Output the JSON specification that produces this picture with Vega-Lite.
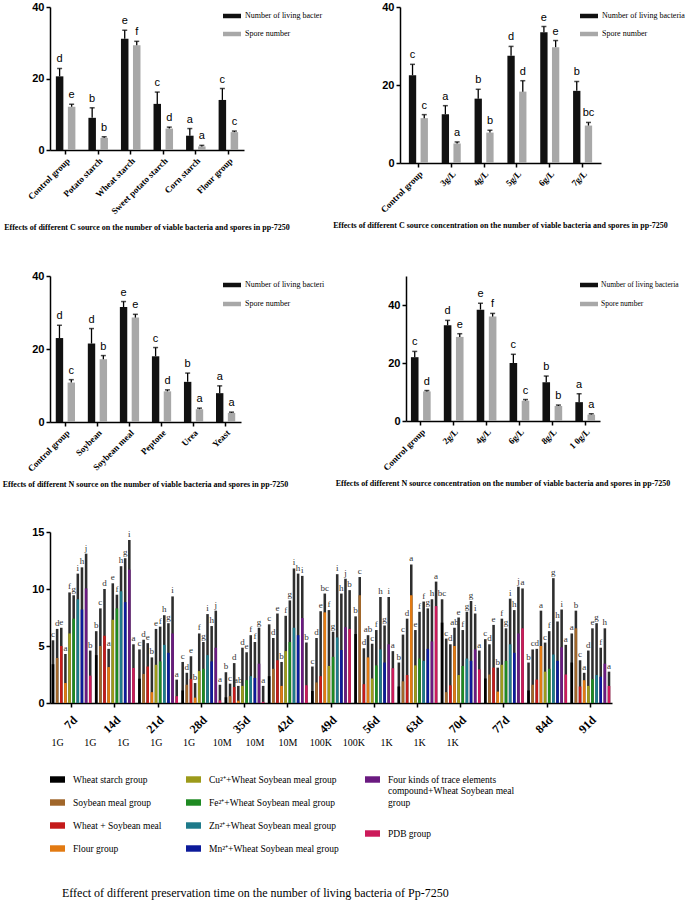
{
  "$schema": "https://vega.github.io/schema/vega-lite/v6.json",
  "background": "white",
  "padding": {"left": 2, "top": 1, "right": 0, "bottom": 2},
  "spacing": 36,
  "config": {
    "view": {"stroke": null},
    "axis": {"grid": false, "domainColor": "#000", "domainWidth": 1.5, "tickColor": "#000", "tickWidth": 1.5, "tickSize": 4, "labelColor": "#000", "titleColor": "#000"},
    "legend": {"symbolStrokeWidth": 0, "padding": 0, "labelColor": "#000"}
  },
  "resolve": {"scale": {"color": "independent", "fill": "independent", "xOffset": "independent"}, "legend": {"color": "independent", "fill": "independent"}},
  "datasets": {
    "cSource": [
      {"cat": "Control group", "series": "Number of living bacteria", "value": 20.6, "err": 22.8, "letter": "d"},
      {"cat": "Control group", "series": "Spore number", "value": 12.1, "err": 12.8, "letter": "e"},
      {"cat": "Potato starch", "series": "Number of living bacteria", "value": 9.0, "err": 11.8, "letter": "b"},
      {"cat": "Potato starch", "series": "Spore number", "value": 3.4, "err": 3.7, "letter": "b"},
      {"cat": "Wheat starch", "series": "Number of living bacteria", "value": 31.1, "err": 33.5, "letter": "e"},
      {"cat": "Wheat starch", "series": "Spore number", "value": 29.3, "err": 30.4, "letter": "f"},
      {"cat": "Sweet potato starch", "series": "Number of living bacteria", "value": 12.9, "err": 16.2, "letter": "c"},
      {"cat": "Sweet potato starch", "series": "Spore number", "value": 6.0, "err": 6.4, "letter": "d"},
      {"cat": "Corn starch", "series": "Number of living bacteria", "value": 4.0, "err": 6.0, "letter": "a"},
      {"cat": "Corn starch", "series": "Spore number", "value": 1.0, "err": 1.3, "letter": "a"},
      {"cat": "Flour group", "series": "Number of living bacteria", "value": 14.0, "err": 17.2, "letter": "c"},
      {"cat": "Flour group", "series": "Spore number", "value": 5.0, "err": 5.3, "letter": "c"}
    ],
    "cConc": [
      {"cat": "Control group", "series": "Number of living bacteria", "value": 22.5, "err": 25.3, "letter": "c"},
      {"cat": "Control group", "series": "Spore number", "value": 11.5, "err": 12.4, "letter": "c"},
      {"cat": "3g/L", "series": "Number of living bacteria", "value": 12.5, "err": 14.7, "letter": "a"},
      {"cat": "3g/L", "series": "Spore number", "value": 5.0, "err": 5.4, "letter": "a"},
      {"cat": "4g/L", "series": "Number of living bacteria", "value": 16.5, "err": 18.9, "letter": "b"},
      {"cat": "4g/L", "series": "Spore number", "value": 7.8, "err": 8.4, "letter": "b"},
      {"cat": "5g/L", "series": "Number of living bacteria", "value": 27.5, "err": 29.9, "letter": "d"},
      {"cat": "5g/L", "series": "Spore number", "value": 18.3, "err": 21.1, "letter": "d"},
      {"cat": "6g/L", "series": "Number of living bacteria", "value": 33.5, "err": 35.0, "letter": "e"},
      {"cat": "6g/L", "series": "Spore number", "value": 29.7, "err": 31.4, "letter": "e"},
      {"cat": "7g/L", "series": "Number of living bacteria", "value": 18.5, "err": 20.9, "letter": "b"},
      {"cat": "7g/L", "series": "Spore number", "value": 9.6, "err": 10.4, "letter": "bc"}
    ],
    "nSource": [
      {"cat": "Control group", "series": "Number of living bacteria", "value": 23.0, "err": 26.5, "letter": "d"},
      {"cat": "Control group", "series": "Spore number", "value": 10.8, "err": 11.6, "letter": "c"},
      {"cat": "Soybean", "series": "Number of living bacteria", "value": 21.5, "err": 25.6, "letter": "d"},
      {"cat": "Soybean", "series": "Spore number", "value": 17.2, "err": 18.2, "letter": "b"},
      {"cat": "Soybean meal", "series": "Number of living bacteria", "value": 31.5, "err": 33.0, "letter": "e"},
      {"cat": "Soybean meal", "series": "Spore number", "value": 28.6, "err": 29.5, "letter": "e"},
      {"cat": "Peptone", "series": "Number of living bacteria", "value": 18.0, "err": 20.4, "letter": "c"},
      {"cat": "Peptone", "series": "Spore number", "value": 8.4, "err": 8.8, "letter": "d"},
      {"cat": "Urea", "series": "Number of living bacteria", "value": 11.0, "err": 13.4, "letter": "b"},
      {"cat": "Urea", "series": "Spore number", "value": 3.5, "err": 3.8, "letter": "a"},
      {"cat": "Yeast", "series": "Number of living bacteria", "value": 7.9, "err": 9.9, "letter": "a"},
      {"cat": "Yeast", "series": "Spore number", "value": 2.5, "err": 2.7, "letter": "a"}
    ],
    "nConc": [
      {"cat": "Control group", "series": "Number of living bacteria", "value": 22.0, "err": 24.0, "letter": "c"},
      {"cat": "Control group", "series": "Spore number", "value": 10.2, "err": 10.5, "letter": "d"},
      {"cat": "2g/L", "series": "Number of living bacteria", "value": 33.0, "err": 34.7, "letter": "d"},
      {"cat": "2g/L", "series": "Spore number", "value": 29.0, "err": 30.1, "letter": "e"},
      {"cat": "4g/L", "series": "Number of living bacteria", "value": 38.4, "err": 40.6, "letter": "e"},
      {"cat": "4g/L", "series": "Spore number", "value": 36.0, "err": 37.1, "letter": "f"},
      {"cat": "6g/L", "series": "Number of living bacteria", "value": 20.0, "err": 23.0, "letter": "c"},
      {"cat": "6g/L", "series": "Spore number", "value": 7.0, "err": 7.4, "letter": "c"},
      {"cat": "8g/L", "series": "Number of living bacteria", "value": 13.4, "err": 15.5, "letter": "b"},
      {"cat": "8g/L", "series": "Spore number", "value": 5.2, "err": 5.5, "letter": "b"},
      {"cat": "1 0g/L", "series": "Number of living bacteria", "value": 6.5, "err": 9.4, "letter": "a"},
      {"cat": "1 0g/L", "series": "Spore number", "value": 2.2, "err": 2.5, "letter": "a"}
    ],
    "slots": [
      {"slot": "7d|1G"}, {"slot": "14d|1G"}, {"slot": "21d|1G"}, {"slot": "28d|1G"}, {"slot": "35d|1G"},
      {"slot": "42d|10M"}, {"slot": "49d|10M"}, {"slot": "56d|10M"}, {"slot": "63d|100K"}, {"slot": "70d|100K"},
      {"slot": "77d|1K"}, {"slot": "84d|1K"}, {"slot": "91d|1K"}
    ],
    "storage": [
      {"day": "7d", "group": "Wheat starch group", "value": 3.4, "err": 5.5, "letter": "c"},
      {"day": "7d", "group": "Soybean meal group", "value": 3.95, "err": 6.5, "letter": "d"},
      {"day": "7d", "group": "Wheat + Soybean meal", "value": 5.0, "err": 6.6, "letter": "e"},
      {"day": "7d", "group": "Flour group", "value": 1.75, "err": 4.3, "letter": "a"},
      {"day": "7d", "group": "Cu²⁺+Wheat Soybean meal group", "value": 6.1, "err": 9.7, "letter": "f"},
      {"day": "7d", "group": "Fe²⁺+Wheat Soybean meal group", "value": 7.4, "err": 9.45, "letter": "g"},
      {"day": "7d", "group": "Zn²⁺+Wheat Soybean meal group", "value": 9.1, "err": 11.35, "letter": "i"},
      {"day": "7d", "group": "Mn²⁺+Wheat Soybean meal group", "value": 8.2, "err": 11.9, "letter": "h"},
      {"day": "7d", "group": "Four kinds of trace elements compound+Wheat Soybean meal group", "value": 10.05, "err": 13.1, "letter": "j"},
      {"day": "7d", "group": "PDB group", "value": 2.4, "err": 4.6, "letter": "b"},
      {"day": "14d", "group": "Wheat starch group", "value": 4.2, "err": 6.3, "letter": "b"},
      {"day": "14d", "group": "Soybean meal group", "value": 5.0, "err": 8.3, "letter": "c"},
      {"day": "14d", "group": "Wheat + Soybean meal", "value": 5.9, "err": 10.0, "letter": "d"},
      {"day": "14d", "group": "Flour group", "value": 3.15, "err": 4.75, "letter": "a"},
      {"day": "14d", "group": "Cu²⁺+Wheat Soybean meal group", "value": 7.3, "err": 10.5, "letter": "e"},
      {"day": "14d", "group": "Fe²⁺+Wheat Soybean meal group", "value": 8.3, "err": 9.5, "letter": "f"},
      {"day": "14d", "group": "Zn²⁺+Wheat Soybean meal group", "value": 9.8, "err": 12.0, "letter": "h"},
      {"day": "14d", "group": "Mn²⁺+Wheat Soybean meal group", "value": 8.85, "err": 12.7, "letter": "g"},
      {"day": "14d", "group": "Four kinds of trace elements compound+Wheat Soybean meal group", "value": 11.7, "err": 14.3, "letter": "i"},
      {"day": "14d", "group": "PDB group", "value": 3.07, "err": 5.15, "letter": "a"},
      {"day": "21d", "group": "Wheat starch group", "value": 2.13, "err": 4.7, "letter": "c"},
      {"day": "21d", "group": "Soybean meal group", "value": 2.55, "err": 5.55, "letter": "d"},
      {"day": "21d", "group": "Wheat + Soybean meal", "value": 3.2, "err": 5.25, "letter": "e"},
      {"day": "21d", "group": "Flour group", "value": 0.95, "err": 4.0, "letter": "b"},
      {"day": "21d", "group": "Cu²⁺+Wheat Soybean meal group", "value": 3.35, "err": 6.5, "letter": "e"},
      {"day": "21d", "group": "Fe²⁺+Wheat Soybean meal group", "value": 3.65, "err": 6.7, "letter": "f"},
      {"day": "21d", "group": "Zn²⁺+Wheat Soybean meal group", "value": 5.1, "err": 7.7, "letter": "h"},
      {"day": "21d", "group": "Mn²⁺+Wheat Soybean meal group", "value": 4.4, "err": 7.0, "letter": "g"},
      {"day": "21d", "group": "Four kinds of trace elements compound+Wheat Soybean meal group", "value": 6.1, "err": 9.35, "letter": "i"},
      {"day": "21d", "group": "PDB group", "value": 0.6, "err": 2.05, "letter": "a"},
      {"day": "28d", "group": "Wheat starch group", "value": 1.1, "err": 3.6, "letter": "c"},
      {"day": "28d", "group": "Soybean meal group", "value": 1.6, "err": 2.65, "letter": "d"},
      {"day": "28d", "group": "Wheat + Soybean meal", "value": 2.1, "err": 4.1, "letter": "e"},
      {"day": "28d", "group": "Flour group", "value": 0.47, "err": 1.75, "letter": "b"},
      {"day": "28d", "group": "Cu²⁺+Wheat Soybean meal group", "value": 2.8, "err": 6.1, "letter": "f"},
      {"day": "28d", "group": "Fe²⁺+Wheat Soybean meal group", "value": 3.0, "err": 5.35, "letter": "g"},
      {"day": "28d", "group": "Zn²⁺+Wheat Soybean meal group", "value": 4.2, "err": 7.8, "letter": "i"},
      {"day": "28d", "group": "Mn²⁺+Wheat Soybean meal group", "value": 3.65, "err": 6.75, "letter": "h"},
      {"day": "28d", "group": "Four kinds of trace elements compound+Wheat Soybean meal group", "value": 4.85, "err": 8.1, "letter": "j"},
      {"day": "28d", "group": "PDB group", "value": 0.23, "err": 1.6, "letter": "a"},
      {"day": "35d", "group": "Wheat starch group", "value": 0.5, "err": 2.7, "letter": "b"},
      {"day": "35d", "group": "Soybean meal group", "value": 0.6, "err": 1.7, "letter": "c"},
      {"day": "35d", "group": "Wheat + Soybean meal", "value": 1.4, "err": 3.5, "letter": "d"},
      {"day": "35d", "group": "Flour group", "value": 0.2, "err": 1.5, "letter": "ab"},
      {"day": "35d", "group": "Cu²⁺+Wheat Soybean meal group", "value": 1.5, "err": 4.85, "letter": "d"},
      {"day": "35d", "group": "Fe²⁺+Wheat Soybean meal group", "value": 2.0, "err": 4.45, "letter": "e"},
      {"day": "35d", "group": "Zn²⁺+Wheat Soybean meal group", "value": 2.35, "err": 5.95, "letter": "f"},
      {"day": "35d", "group": "Mn²⁺+Wheat Soybean meal group", "value": 2.2, "err": 5.35, "letter": "f"},
      {"day": "35d", "group": "Four kinds of trace elements compound+Wheat Soybean meal group", "value": 3.45, "err": 6.6, "letter": "g"},
      {"day": "35d", "group": "PDB group", "value": 0.1, "err": 1.5, "letter": "a"},
      {"day": "42d", "group": "Wheat starch group", "value": 2.35, "err": 6.9, "letter": "c"},
      {"day": "42d", "group": "Soybean meal group", "value": 3.0, "err": 5.7, "letter": "d"},
      {"day": "42d", "group": "Wheat + Soybean meal", "value": 3.75, "err": 7.85, "letter": "e"},
      {"day": "42d", "group": "Flour group", "value": 1.5, "err": 3.6, "letter": "b"},
      {"day": "42d", "group": "Cu²⁺+Wheat Soybean meal group", "value": 4.55, "err": 7.65, "letter": "f"},
      {"day": "42d", "group": "Fe²⁺+Wheat Soybean meal group", "value": 5.35, "err": 9.0, "letter": "g"},
      {"day": "42d", "group": "Zn²⁺+Wheat Soybean meal group", "value": 6.6, "err": 11.8, "letter": "i"},
      {"day": "42d", "group": "Mn²⁺+Wheat Soybean meal group", "value": 5.95, "err": 11.35, "letter": "h"},
      {"day": "42d", "group": "Four kinds of trace elements compound+Wheat Soybean meal group", "value": 7.45, "err": 11.15, "letter": "i"},
      {"day": "42d", "group": "PDB group", "value": 1.55, "err": 5.3, "letter": "b"},
      {"day": "49d", "group": "Wheat starch group", "value": 1.05, "err": 3.2, "letter": "c"},
      {"day": "49d", "group": "Soybean meal group", "value": 1.8, "err": 5.7, "letter": "d"},
      {"day": "49d", "group": "Wheat + Soybean meal", "value": 2.35, "err": 8.05, "letter": "e"},
      {"day": "49d", "group": "Flour group", "value": 7.95, "err": 9.6, "letter": "bc"},
      {"day": "49d", "group": "Cu²⁺+Wheat Soybean meal group", "value": 3.25, "err": 8.15, "letter": "f"},
      {"day": "49d", "group": "Fe²⁺+Wheat Soybean meal group", "value": 4.05, "err": 6.25, "letter": "g"},
      {"day": "49d", "group": "Zn²⁺+Wheat Soybean meal group", "value": 5.75, "err": 11.3, "letter": "i"},
      {"day": "49d", "group": "Mn²⁺+Wheat Soybean meal group", "value": 4.65, "err": 9.6, "letter": "h"},
      {"day": "49d", "group": "Four kinds of trace elements compound+Wheat Soybean meal group", "value": 6.65, "err": 10.9, "letter": "j"},
      {"day": "49d", "group": "PDB group", "value": 6.5, "err": 9.9, "letter": "b"},
      {"day": "56d", "group": "Wheat starch group", "value": 6.05, "err": 7.6, "letter": "b"},
      {"day": "56d", "group": "Soybean meal group", "value": 9.45, "err": 11.05, "letter": "c"},
      {"day": "56d", "group": "Wheat + Soybean meal", "value": 1.65, "err": 4.8, "letter": "d"},
      {"day": "56d", "group": "Flour group", "value": 4.0, "err": 5.95, "letter": "ab"},
      {"day": "56d", "group": "Cu²⁺+Wheat Soybean meal group", "value": 2.15, "err": 5.2, "letter": "c"},
      {"day": "56d", "group": "Fe²⁺+Wheat Soybean meal group", "value": 3.3, "err": 6.4, "letter": "f"},
      {"day": "56d", "group": "Zn²⁺+Wheat Soybean meal group", "value": 4.7, "err": 9.3, "letter": "h"},
      {"day": "56d", "group": "Mn²⁺+Wheat Soybean meal group", "value": 3.55, "err": 6.8, "letter": "g"},
      {"day": "56d", "group": "Four kinds of trace elements compound+Wheat Soybean meal group", "value": 5.15, "err": 9.3, "letter": "i"},
      {"day": "56d", "group": "PDB group", "value": 3.05, "err": 4.55, "letter": "a"},
      {"day": "63d", "group": "Wheat starch group", "value": 1.45, "err": 3.55, "letter": "b"},
      {"day": "63d", "group": "Soybean meal group", "value": 1.9, "err": 6.0, "letter": "c"},
      {"day": "63d", "group": "Wheat + Soybean meal", "value": 2.45, "err": 7.4, "letter": "d"},
      {"day": "63d", "group": "Flour group", "value": 9.45, "err": 12.15, "letter": "a"},
      {"day": "63d", "group": "Cu²⁺+Wheat Soybean meal group", "value": 3.3, "err": 6.4, "letter": "e"},
      {"day": "63d", "group": "Fe²⁺+Wheat Soybean meal group", "value": 3.9, "err": 8.0, "letter": "f"},
      {"day": "63d", "group": "Zn²⁺+Wheat Soybean meal group", "value": 3.7, "err": 8.9, "letter": "f"},
      {"day": "63d", "group": "Mn²⁺+Wheat Soybean meal group", "value": 4.75, "err": 8.3, "letter": "g"},
      {"day": "63d", "group": "Four kinds of trace elements compound+Wheat Soybean meal group", "value": 5.4, "err": 9.1, "letter": "h"},
      {"day": "63d", "group": "PDB group", "value": 8.5, "err": 10.65, "letter": "a"},
      {"day": "70d", "group": "Wheat starch group", "value": 7.05, "err": 9.1, "letter": "bc"},
      {"day": "70d", "group": "Soybean meal group", "value": 0.95, "err": 5.65, "letter": "c"},
      {"day": "70d", "group": "Wheat + Soybean meal", "value": 1.55, "err": 5.15, "letter": "d"},
      {"day": "70d", "group": "Flour group", "value": 5.0, "err": 6.6, "letter": "ab"},
      {"day": "70d", "group": "Cu²⁺+Wheat Soybean meal group", "value": 2.45, "err": 7.5, "letter": "e"},
      {"day": "70d", "group": "Fe²⁺+Wheat Soybean meal group", "value": 3.25, "err": 6.4, "letter": "f"},
      {"day": "70d", "group": "Zn²⁺+Wheat Soybean meal group", "value": 3.9, "err": 8.0, "letter": "g"},
      {"day": "70d", "group": "Mn²⁺+Wheat Soybean meal group", "value": 3.7, "err": 8.95, "letter": "g"},
      {"day": "70d", "group": "Four kinds of trace elements compound+Wheat Soybean meal group", "value": 4.7, "err": 7.85, "letter": "i"},
      {"day": "70d", "group": "PDB group", "value": 2.95, "err": 4.6, "letter": "a"},
      {"day": "77d", "group": "Wheat starch group", "value": 2.15, "err": 5.6, "letter": "c"},
      {"day": "77d", "group": "Soybean meal group", "value": 2.5, "err": 5.15, "letter": "d"},
      {"day": "77d", "group": "Wheat + Soybean meal", "value": 3.1, "err": 6.85, "letter": "e"},
      {"day": "77d", "group": "Flour group", "value": 1.0, "err": 3.1, "letter": "b"},
      {"day": "77d", "group": "Cu²⁺+Wheat Soybean meal group", "value": 3.35, "err": 7.4, "letter": "f"},
      {"day": "77d", "group": "Fe²⁺+Wheat Soybean meal group", "value": 3.7, "err": 6.55, "letter": "g"},
      {"day": "77d", "group": "Zn²⁺+Wheat Soybean meal group", "value": 5.15, "err": 9.15, "letter": "i"},
      {"day": "77d", "group": "Mn²⁺+Wheat Soybean meal group", "value": 4.4, "err": 8.15, "letter": "h"},
      {"day": "77d", "group": "Four kinds of trace elements compound+Wheat Soybean meal group", "value": 6.1, "err": 10.2, "letter": "j"},
      {"day": "77d", "group": "PDB group", "value": 6.55, "err": 10.05, "letter": "a"},
      {"day": "84d", "group": "Wheat starch group", "value": 1.1, "err": 3.55, "letter": "b"},
      {"day": "84d", "group": "Soybean meal group", "value": 1.6, "err": 4.7, "letter": "c"},
      {"day": "84d", "group": "Wheat + Soybean meal", "value": 2.05, "err": 4.75, "letter": "d"},
      {"day": "84d", "group": "Flour group", "value": 5.0, "err": 8.1, "letter": "a"},
      {"day": "84d", "group": "Cu²⁺+Wheat Soybean meal group", "value": 2.75, "err": 5.3, "letter": "c"},
      {"day": "84d", "group": "Fe²⁺+Wheat Soybean meal group", "value": 3.0, "err": 6.3, "letter": "f"},
      {"day": "84d", "group": "Zn²⁺+Wheat Soybean meal group", "value": 4.25, "err": 10.95, "letter": "g"},
      {"day": "84d", "group": "Mn²⁺+Wheat Soybean meal group", "value": 3.7, "err": 7.15, "letter": "h"},
      {"day": "84d", "group": "Four kinds of trace elements compound+Wheat Soybean meal group", "value": 4.9, "err": 8.2, "letter": "i"},
      {"day": "84d", "group": "PDB group", "value": 2.5, "err": 5.1, "letter": "a"},
      {"day": "91d", "group": "Wheat starch group", "value": 3.55, "err": 6.1, "letter": "a"},
      {"day": "91d", "group": "Soybean meal group", "value": 6.55, "err": 8.1, "letter": "b"},
      {"day": "91d", "group": "Wheat + Soybean meal", "value": 1.45, "err": 3.75, "letter": "c"},
      {"day": "91d", "group": "Flour group", "value": 2.0, "err": 2.65, "letter": "a"},
      {"day": "91d", "group": "Cu²⁺+Wheat Soybean meal group", "value": 1.5, "err": 4.6, "letter": "d"},
      {"day": "91d", "group": "Fe²⁺+Wheat Soybean meal group", "value": 2.1, "err": 6.55, "letter": "e"},
      {"day": "91d", "group": "Zn²⁺+Wheat Soybean meal group", "value": 2.45, "err": 7.0, "letter": "g"},
      {"day": "91d", "group": "Mn²⁺+Wheat Soybean meal group", "value": 2.3, "err": 4.85, "letter": "f"},
      {"day": "91d", "group": "Four kinds of trace elements compound+Wheat Soybean meal group", "value": 3.45, "err": 6.55, "letter": "h"},
      {"day": "91d", "group": "PDB group", "value": 1.5, "err": 2.75, "letter": "a"}
    ]
  },
  "vconcat": [
    {
      "spacing": 38,
      "resolve": {"scale": {"color": "independent", "xOffset": "independent"}, "legend": {"color": "independent"}},
      "vconcat": [
        {
          "hconcat": [
            {
              "width": 194, "height": 143,
              "data": {"name": "cSource"},
              "title": {"text": "Effects of different C source on the number of viable bacteria and spores in pp-7250", "orient": "bottom", "anchor": "middle", "frame": "group", "font": "Liberation Serif", "fontSize": 8, "fontWeight": "bold", "color": "#000", "offset": 8},
              "encoding": {
                "x": {"field": "cat", "type": "nominal", "sort": null, "scale": {"type": "band", "paddingInner": 0.4, "paddingOuter": 0.18}, "axis": {"title": null, "labelAngle": -45, "labelFont": "Liberation Serif", "labelFontSize": 9, "labelFontWeight": "bold", "labelPadding": 2}},
                "xOffset": {"field": "series", "type": "nominal", "scale": {"type": "band", "paddingInner": 0.375, "domain": ["Number of living bacteria", "Spore number"]}}
              },
              "layer": [
                {"mark": {"type": "bar"}, "encoding": {
                  "y": {"field": "value", "type": "quantitative", "scale": {"domain": [0, 40], "nice": false}, "axis": {"title": null, "values": [0, 10, 20, 30, 40], "labelFont": "Liberation Sans", "labelFontSize": 11, "labelFontWeight": "bold"}},
                  "color": {"field": "series", "type": "nominal", "scale": {"domain": ["Number of living bacteria", "Spore number"], "range": ["#111111", "#a8a8a8"]},
                    "legend": {"orient": "right", "offset": -21, "title": null, "labelFont": "Liberation Serif", "labelFontSize": 8, "symbolType": "M-1,-0.25H1V0.25H-1Z", "symbolSize": 324, "rowPadding": 5, "labelOffset": 4, "labelExpr": "datum.value == 'Number of living bacteria' ? 'Number of living bacter' : datum.value"}}
                }},
                {"mark": {"type": "rule", "color": "#000", "strokeWidth": 1.3}, "encoding": {"y": {"field": "value", "type": "quantitative"}, "y2": {"field": "err"}}},
                {"mark": {"type": "tick", "color": "#000", "thickness": 1.5, "size": 5}, "encoding": {"y": {"field": "err", "type": "quantitative"}}},
                {"mark": {"type": "text", "font": "Liberation Sans", "fontSize": 11, "baseline": "bottom", "dy": -4, "color": "#000"}, "encoding": {"y": {"field": "err", "type": "quantitative"}, "text": {"field": "letter"}}}
              ]
            },
            {
              "width": 201, "height": 156,
              "data": {"name": "cConc"},
              "title": {"text": "Effects of different C source concentration on the number of viable bacteria and spores in pp-7250", "orient": "bottom", "anchor": "middle", "frame": "group", "font": "Liberation Serif", "fontSize": 8, "fontWeight": "bold", "color": "#000", "offset": 8},
              "encoding": {
                "x": {"field": "cat", "type": "nominal", "sort": null, "scale": {"type": "band", "paddingInner": 0.42, "paddingOuter": 0.27}, "axis": {"title": null, "labelAngle": -45, "labelFont": "Liberation Serif", "labelFontSize": 9, "labelFontWeight": "bold", "labelPadding": 2}},
                "xOffset": {"field": "series", "type": "nominal", "scale": {"type": "band", "paddingInner": 0.375, "domain": ["Number of living bacteria", "Spore number"]}}
              },
              "layer": [
                {"mark": {"type": "bar"}, "encoding": {
                  "y": {"field": "value", "type": "quantitative", "scale": {"domain": [0, 40], "nice": false}, "axis": {"title": null, "values": [0, 10, 20, 30, 40], "labelFont": "Liberation Sans", "labelFontSize": 11, "labelFontWeight": "bold"}},
                  "color": {"field": "series", "type": "nominal", "scale": {"domain": ["Number of living bacteria", "Spore number"], "range": ["#111111", "#a8a8a8"]},
                    "legend": {"orient": "right", "offset": -21, "title": null, "labelFont": "Liberation Serif", "labelFontSize": 8, "symbolType": "M-1,-0.25H1V0.25H-1Z", "symbolSize": 324, "rowPadding": 5, "labelOffset": 4}}
                }},
                {"mark": {"type": "rule", "color": "#000", "strokeWidth": 1.3}, "encoding": {"y": {"field": "value", "type": "quantitative"}, "y2": {"field": "err"}}},
                {"mark": {"type": "tick", "color": "#000", "thickness": 1.5, "size": 5}, "encoding": {"y": {"field": "err", "type": "quantitative"}}},
                {"mark": {"type": "text", "font": "Liberation Sans", "fontSize": 11, "baseline": "bottom", "dy": -4, "color": "#000"}, "encoding": {"y": {"field": "err", "type": "quantitative"}, "text": {"field": "letter"}}}
              ]
            }
          ],
          "spacing": 10,
          "resolve": {"scale": {"color": "independent", "xOffset": "independent"}, "legend": {"color": "independent"}}
        },
        {
          "hconcat": [
            {
              "width": 191, "height": 146,
              "data": {"name": "nSource"},
              "title": {"text": "Effects of different N source on the number of viable bacteria and spores in pp-7250", "orient": "bottom", "anchor": "middle", "frame": "group", "font": "Liberation Serif", "fontSize": 8, "fontWeight": "bold", "color": "#000", "offset": 8},
              "encoding": {
                "x": {"field": "cat", "type": "nominal", "sort": null, "scale": {"type": "band", "paddingInner": 0.4, "paddingOuter": 0.18}, "axis": {"title": null, "labelAngle": -45, "labelFont": "Liberation Serif", "labelFontSize": 9, "labelFontWeight": "bold", "labelPadding": 2}},
                "xOffset": {"field": "series", "type": "nominal", "scale": {"type": "band", "paddingInner": 0.375, "domain": ["Number of living bacteria", "Spore number"]}}
              },
              "layer": [
                {"mark": {"type": "bar"}, "encoding": {
                  "y": {"field": "value", "type": "quantitative", "scale": {"domain": [0, 40], "nice": false}, "axis": {"title": null, "values": [0, 10, 20, 30, 40], "labelFont": "Liberation Sans", "labelFontSize": 11, "labelFontWeight": "bold"}},
                  "color": {"field": "series", "type": "nominal", "scale": {"domain": ["Number of living bacteria", "Spore number"], "range": ["#111111", "#a8a8a8"]},
                    "legend": {"orient": "right", "offset": -18, "title": null, "labelFont": "Liberation Serif", "labelFontSize": 8, "symbolType": "M-1,-0.25H1V0.25H-1Z", "symbolSize": 324, "rowPadding": 6, "labelOffset": 4, "labelExpr": "datum.value == 'Number of living bacteria' ? 'Number of living bacteri' : datum.value"}}
                }},
                {"mark": {"type": "rule", "color": "#000", "strokeWidth": 1.3}, "encoding": {"y": {"field": "value", "type": "quantitative"}, "y2": {"field": "err"}}},
                {"mark": {"type": "tick", "color": "#000", "thickness": 1.5, "size": 5}, "encoding": {"y": {"field": "err", "type": "quantitative"}}},
                {"mark": {"type": "text", "font": "Liberation Sans", "fontSize": 11, "baseline": "bottom", "dy": -4, "color": "#000"}, "encoding": {"y": {"field": "err", "type": "quantitative"}, "text": {"field": "letter"}}}
              ]
            },
            {
              "width": 194, "height": 145,
              "data": {"name": "nConc"},
              "title": {"text": "Effects of different N source concentration on the number of viable bacteria and spores in pp-7250", "orient": "bottom", "anchor": "middle", "frame": "group", "font": "Liberation Serif", "fontSize": 8, "fontWeight": "bold", "color": "#000", "offset": 8},
              "encoding": {
                "x": {"field": "cat", "type": "nominal", "sort": null, "scale": {"type": "band", "paddingInner": 0.4, "paddingOuter": 0.15}, "axis": {"title": null, "labelAngle": -45, "labelFont": "Liberation Serif", "labelFontSize": 9, "labelFontWeight": "bold", "labelPadding": 2}},
                "xOffset": {"field": "series", "type": "nominal", "scale": {"type": "band", "paddingInner": 0.375, "domain": ["Number of living bacteria", "Spore number"]}}
              },
              "layer": [
                {"mark": {"type": "bar"}, "encoding": {
                  "y": {"field": "value", "type": "quantitative", "scale": {"domain": [0, 50], "nice": false}, "axis": {"title": null, "values": [0, 10, 20, 30, 40, 50], "labelFont": "Liberation Sans", "labelFontSize": 11, "labelFontWeight": "bold"}},
                  "color": {"field": "series", "type": "nominal", "scale": {"domain": ["Number of living bacteria", "Spore number"], "range": ["#111111", "#a8a8a8"]},
                    "legend": {"orient": "right", "offset": -20, "title": null, "labelFont": "Liberation Serif", "labelFontSize": 7.5, "symbolType": "M-1,-0.25H1V0.25H-1Z", "symbolSize": 324, "rowPadding": 6, "labelOffset": 3}}
                }},
                {"mark": {"type": "rule", "color": "#000", "strokeWidth": 1.3}, "encoding": {"y": {"field": "value", "type": "quantitative"}, "y2": {"field": "err"}}},
                {"mark": {"type": "tick", "color": "#000", "thickness": 1.5, "size": 5}, "encoding": {"y": {"field": "err", "type": "quantitative"}}},
                {"mark": {"type": "text", "font": "Liberation Sans", "fontSize": 11, "baseline": "bottom", "dy": -4, "color": "#000"}, "encoding": {"y": {"field": "err", "type": "quantitative"}, "text": {"field": "letter"}}}
              ]
            }
          ],
          "spacing": 10,
          "resolve": {"scale": {"color": "independent", "xOffset": "independent"}, "legend": {"color": "independent"}}
        }
      ]
    },
    {
      "width": 562, "height": 171,
      "title": {"text": "Effect of different preservation time on the number of living bacteria of Pp-7250", "orient": "bottom", "anchor": "start", "frame": "group", "font": "Liberation Serif", "fontSize": 12, "fontWeight": "normal", "color": "#000", "offset": 35, "dx": 12},
      "layer": [
        {
          "data": {"name": "storage"},
          "encoding": {
            "x": {"field": "day", "type": "nominal", "sort": null, "scale": {"type": "band", "paddingInner": 0.06, "paddingOuter": 0.03}, "axis": {"title": null, "labelAngle": -45, "labelFont": "Liberation Serif", "labelFontSize": 12, "labelFontWeight": "bold", "labelPadding": 7}},
            "xOffset": {"field": "group", "type": "nominal", "scale": {"type": "band", "paddingInner": 0.38, "paddingOuter": 0.1, "domain": ["Wheat starch group", "Soybean meal group", "Wheat + Soybean meal", "Flour group", "Cu²⁺+Wheat Soybean meal group", "Fe²⁺+Wheat Soybean meal group", "Zn²⁺+Wheat Soybean meal group", "Mn²⁺+Wheat Soybean meal group", "Four kinds of trace elements compound+Wheat Soybean meal group", "PDB group"]}}
          },
          "layer": [
            {"mark": {"type": "bar", "color": "#2e2e2e"}, "encoding": {
              "y": {"field": "err", "type": "quantitative", "scale": {"domain": [0, 15], "nice": false}, "axis": {"title": null, "values": [0, 5, 10, 15], "labelFont": "Liberation Sans", "labelFontSize": 11, "labelFontWeight": "bold"}}
            }},
            {"transform": [{"filter": {"not": {"field": "group", "oneOf": ["Four kinds of trace elements compound+Wheat Soybean meal group", "PDB group"]}}}],
             "mark": {"type": "bar"}, "encoding": {
              "y": {"field": "value", "type": "quantitative"},
              "fill": {"field": "group", "type": "nominal", "scale": {"domain": ["Wheat starch group", "Cu²⁺+Wheat Soybean meal group", "Soybean meal group", "Fe²⁺+Wheat Soybean meal group", "Wheat + Soybean meal", "Zn²⁺+Wheat Soybean meal group", "Flour group", "Mn²⁺+Wheat Soybean meal group"], "range": ["#000000", "#9c9a1a", "#a0662a", "#1e8a22", "#c41a1a", "#1e7a8a", "#e27a12", "#0c1a9a"]},
                "legend": {"orient": "bottom", "direction": "horizontal", "columns": 2, "offset": 25, "title": null, "labelFont": "Liberation Serif", "labelFontSize": 9.5, "symbolType": "M-1,-0.43H1V0.43H-1Z", "symbolSize": 225, "rowPadding": 11, "columnPadding": 24, "labelOffset": 8, "labelLimit": 220}}
            }},
            {"transform": [{"filter": {"field": "group", "oneOf": ["Four kinds of trace elements compound+Wheat Soybean meal group", "PDB group"]}}],
             "mark": {"type": "bar"}, "encoding": {
              "y": {"field": "value", "type": "quantitative"},
              "color": {"field": "group", "type": "nominal", "scale": {"domain": ["Four kinds of trace elements compound+Wheat Soybean meal group", "PDB group"], "range": ["#6a1a80", "#cc1a5a"]},
                "legend": {"orient": "bottom", "direction": "vertical", "offset": 25, "title": " ", "titleOrient": "left", "titlePadding": 18, "titleFontSize": 9, "labelFont": "Liberation Serif", "labelFontSize": 9.5, "symbolType": "M-1,-0.43H1V0.43H-1Z", "symbolSize": 225, "rowPadding": 19, "labelOffset": 8, "labelLimit": 220,
                  "labelExpr": "datum.value == 'PDB group' ? datum.value : ['Four kinds of trace elements', 'compound+Wheat Soybean meal', 'group']"}}
            }},
            {"mark": {"type": "text", "font": "Liberation Serif", "fontSize": 9, "baseline": "bottom", "dy": -1, "color": "#333333"}, "encoding": {"y": {"field": "err", "type": "quantitative"}, "text": {"field": "letter"}}}
          ]
        },
        {
          "data": {"name": "slots"},
          "mark": {"type": "point", "opacity": 0},
          "encoding": {
            "x": {"field": "slot", "type": "ordinal", "sort": null, "scale": {"type": "point", "padding": 0, "range": [7, 402]}, "axis": {"orient": "bottom", "offset": 34, "title": null, "domain": false, "ticks": false, "labelAngle": 0, "labelPadding": 0, "labelOverlap": false, "labelFont": "Liberation Serif", "labelFontSize": 10, "labelExpr": "split(datum.value, '|')[1]"}}
          }
        }
      ],
      "resolve": {"scale": {"x": "independent"}, "axis": {"x": "independent"}}
    }
  ]
}
